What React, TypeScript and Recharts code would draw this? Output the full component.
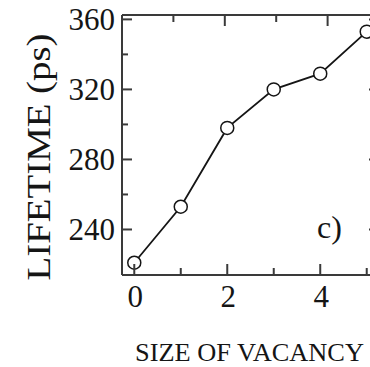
import { LineChart, Line, XAxis, YAxis, Customized } from "recharts";

// vacancy size (number of missing atoms) vs positron lifetime
const sizes = [0, 1, 2, 3, 4, 5];
const lifetimes = [221, 253, 298, 320, 329, 353];
const xTicks = [0, 1, 2, 3, 4, 5];
const yTicks = [240, 260, 280, 300, 320, 340, 360];

const data = sizes.map((s, i) => ({ size: s, lifetime: lifetimes[i] }));

const FONT = '"Liberation Serif", "Times New Roman", serif';
const INK = "#151515";
const AXIS = { stroke: "#3a3a3a", strokeWidth: 2 };
const X_DOMAIN: [number, number] = [-0.264, 5.264];
const Y_DOMAIN: [number, number] = [214, 362.5];

const BottomTick = ({ x, y, payload }: any) => {
  const major = payload.value % 2 === 0;
  return (
    <g>
      <line x1={x} y1={y} x2={x} y2={y - (major ? 11 : 7)} stroke="#3a3a3a" strokeWidth={2} />
      {major && (
        <text x={x + 1} y={y + 32} textAnchor="middle" fontFamily={FONT} fontSize={31} fill={INK}>
          {payload.value}
        </text>
      )}
    </g>
  );
};

const TopTick = ({ x, y, payload }: any) => {
  const major = payload.value % 2 === 0;
  return <line x1={x} y1={y} x2={x} y2={y + (major ? 11 : 7)} stroke="#3a3a3a" strokeWidth={2} />;
};

const LeftTick = ({ x, y, payload }: any) => {
  const major = payload.value % 40 === 0;
  return (
    <g>
      <line x1={x} y1={y} x2={x + (major ? 10 : 6)} y2={y} stroke="#3a3a3a" strokeWidth={2} />
      {major && (
        <text x={x - 7} y={y + 11} textAnchor="end" fontFamily={FONT} fontSize={31} fill={INK}>
          {payload.value}
        </text>
      )}
    </g>
  );
};

const RightTick = ({ x, y, payload }: any) => {
  const major = payload.value % 40 === 0;
  return <line x1={x} y1={y} x2={x - (major ? 10 : 6)} y2={y} stroke="#3a3a3a" strokeWidth={2} />;
};

const Labels = () => (
  <g fontFamily={FONT} fill={INK}>
    <text
      x={0}
      y={0}
      transform="translate(50,157) rotate(-90)"
      textAnchor="middle"
      fontSize={34}
      textLength={247}
      lengthAdjust="spacingAndGlyphs"
    >
      LIFETIME (ps)
    </text>
    <text x={135} y={361} fontSize={26} textLength={229} lengthAdjust="spacingAndGlyphs">
      SIZE OF VACANCY
    </text>
    <text x={317} y={238} fontSize={32}>
      c)
    </text>
  </g>
);

export default function App() {
  return (
    <div
      style={{
        position: "absolute",
        left: 0,
        top: 0,
        width: 370,
        height: 367,
        overflow: "hidden",
        background: "#fff",
      }}
    >
      <LineChart width={400} height={367} data={data} margin={{ top: 0, right: 0, bottom: 0, left: 0 }}>
        <XAxis
          dataKey="size"
          type="number"
          domain={X_DOMAIN}
          ticks={xTicks}
          interval={0}
          allowDataOverflow
          height={92}
          tickSize={0}
          tickMargin={0}
          axisLine={AXIS}
          tick={<BottomTick />}
        />
        <XAxis
          xAxisId="top"
          orientation="top"
          type="number"
          domain={X_DOMAIN}
          ticks={xTicks}
          interval={0}
          allowDataOverflow
          height={15}
          tickSize={0}
          tickMargin={0}
          axisLine={AXIS}
          tick={<TopTick />}
        />
        <YAxis
          type="number"
          domain={Y_DOMAIN}
          ticks={yTicks}
          interval={0}
          allowDataOverflow
          width={122}
          tickSize={0}
          tickMargin={0}
          axisLine={AXIS}
          tick={<LeftTick />}
        />
        <YAxis
          yAxisId="right"
          orientation="right"
          type="number"
          domain={Y_DOMAIN}
          ticks={yTicks}
          interval={0}
          allowDataOverflow
          width={21}
          tickSize={0}
          tickMargin={0}
          axisLine={AXIS}
          tick={<RightTick />}
        />
        <Line
          dataKey="lifetime"
          type="linear"
          stroke={INK}
          strokeWidth={1.8}
          dot={{ r: 6.5, fill: "#fff", stroke: INK, strokeWidth: 1.5 }}
          isAnimationActive={false}
        />
        <Customized component={<Labels />} />
      </LineChart>
    </div>
  );
}
